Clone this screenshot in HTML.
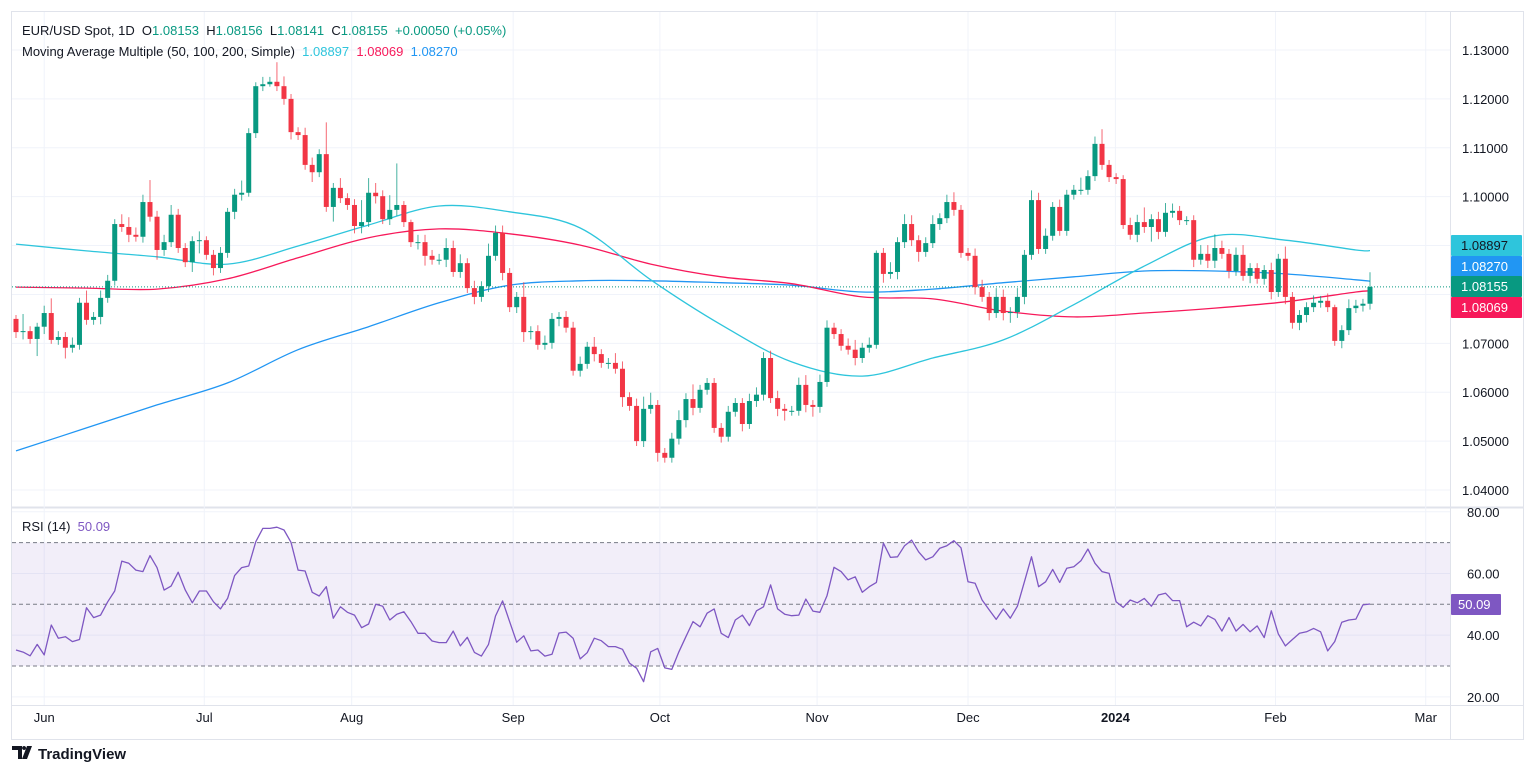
<!DOCTYPE html>
<html><head><meta charset="utf-8"><style>
html,body{margin:0;padding:0;background:#fff;}
body{width:1536px;height:776px;overflow:hidden;font-family:"Liberation Sans",sans-serif;}
svg{display:block}
</style></head><body>
<svg id="chart" width="1536" height="776" xmlns="http://www.w3.org/2000/svg" font-family="Liberation Sans, sans-serif"></svg>
<script>
// ---- data ----
const closes=[1.0723,1.0725,1.0709,1.0734,1.0762,1.0707,1.0713,1.0691,1.0697,1.0783,
1.0748,1.0754,1.0793,1.0828,1.0944,1.0938,1.0922,1.0918,1.0989,1.0959,
1.0891,1.0907,1.0963,1.0895,1.0866,1.0909,1.0911,1.0881,1.0854,1.0885,
1.0969,1.1004,1.1008,1.1130,1.1226,1.1230,1.1235,1.1226,1.1200,1.1132,
1.1126,1.1065,1.1050,1.1087,1.0979,1.1018,1.0997,1.0983,1.0940,1.0948,
1.1008,1.1001,1.0954,1.0973,1.0983,1.0948,1.0907,1.0907,1.0879,1.0871,
1.0871,1.0895,1.0846,1.0864,1.0813,1.0795,1.0817,1.0879,1.0926,1.0844,
1.0774,1.0795,1.0723,1.0725,1.0697,1.0701,1.0750,1.0754,1.0732,1.0644,
1.0658,1.0693,1.0678,1.0660,1.0660,1.0648,1.0590,1.0572,1.0500,1.0566,
1.0574,1.0476,1.0466,1.0505,1.0543,1.0586,1.0568,1.0605,1.0619,1.0527,
1.0509,1.0560,1.0578,1.0535,1.0582,1.0595,1.0670,1.0588,1.0566,1.0562,
1.0562,1.0615,1.0574,1.0570,1.0621,1.0732,1.0719,1.0695,1.0687,1.0670,
1.0691,1.0697,1.0885,1.0842,1.0846,1.0907,1.0944,1.0911,1.0887,1.0905,
1.0944,1.0956,1.0989,1.0973,1.0885,1.0879,1.0815,1.0795,1.0762,1.0795,
1.0762,1.0764,1.0795,1.0881,1.0993,1.0893,1.0920,1.0979,1.0930,1.1004,
1.1014,1.1014,1.1042,1.1108,1.1065,1.1040,1.1036,1.0942,1.0922,1.0948,
1.0938,1.0954,1.0928,1.0967,1.0971,1.0952,1.0952,1.0871,1.0883,1.0869,
1.0895,1.0883,1.0848,1.0881,1.0838,1.0854,1.0832,1.0850,1.0805,1.0873,
1.0795,1.0742,1.0758,1.0774,1.0783,1.0787,1.0774,1.0705,1.0727,1.0772,
1.0777,1.0781,1.08155];
const firstOpen=1.0750;
const upperWickPips=[8,35,10,8,15,30,12,10,15,10,25,10,15,12,10,20,20,15,15,45,12,15,20,12,10,10,18,8,10,12,8,12,25,10,8,15,10,40,20,10,10,15,15,10,65,10,20,10,12,45,30,20,12,30,85,8,5,15,15,12,12,20,15,18,10,15,10,25,15,15,10,10,30,10,12,15,12,10,12,12,15,10,20,10,10,20,15,10,15,25,25,10,10,12,20,12,30,10,10,10,10,12,10,10,15,15,12,15,15,10,10,15,20,10,15,15,10,10,15,20,10,15,5,10,20,10,20,18,10,12,18,10,15,20,10,10,15,15,10,18,15,10,18,10,20,15,15,10,15,10,10,25,12,15,30,10,8,8,15,15,30,10,15,20,15,10,8,10,18,18,28,15,10,15,20,10,10,10,15,10,25,10,10,10,15,10,15,5,10,18,12,10,30];
const lowerWickPips=[12,15,10,35,15,8,10,22,10,10,10,10,15,10,10,10,15,10,12,10,20,12,10,10,10,20,25,10,15,10,10,15,12,8,10,10,5,10,12,15,10,10,20,10,10,30,10,10,15,15,10,15,10,12,12,10,10,15,20,10,10,15,10,12,10,15,10,12,10,15,10,12,20,15,10,10,12,15,10,10,12,10,15,10,12,10,20,10,10,12,10,18,10,10,12,15,15,10,10,10,12,10,10,15,10,12,12,10,15,20,10,10,15,20,12,10,10,10,10,15,10,10,8,18,10,15,12,12,20,10,10,12,10,12,10,10,15,10,15,10,15,20,12,15,10,10,10,10,10,10,10,10,10,10,10,10,10,8,10,15,12,30,15,10,10,10,10,15,10,15,15,10,15,10,10,15,10,12,15,10,15,12,15,15,10,10,10,10,15,10,10,12,12];
const rsiValues=[35.2,34.5,33.3,37.0,33.6,43.3,39.0,39.5,37.9,38.6,48.9,45.7,46.5,50.8,54.3,64.0,63.3,61.1,60.6,65.8,
61.9,54.6,55.9,60.4,54.6,50.5,54.3,54.3,50.8,48.5,51.9,59.3,61.9,62.4,70.3,74.6,74.6,75.0,74.1,70.1,
61.1,60.8,53.9,52.7,55.7,45.5,49.2,47.4,46.5,42.4,43.6,50.0,49.4,44.9,46.8,47.6,44.4,40.6,40.6,38.1,
37.6,37.6,41.3,36.5,39.3,34.4,33.2,37.0,46.2,51.1,44.4,37.7,39.8,34.9,35.2,33.2,33.8,40.7,41.0,39.0,
32.3,34.3,39.0,38.2,36.3,36.3,35.4,30.9,29.3,24.9,34.6,35.7,29.4,28.9,34.6,39.5,44.4,42.7,
47.1,48.5,40.6,39.2,44.9,46.5,43.1,47.9,49.2,56.3,48.5,46.8,46.3,46.5,51.7,47.8,47.4,52.8,62.0,60.6,
57.9,58.9,53.9,55.7,57.1,69.8,65.2,65.4,69.0,70.8,67.0,64.4,65.4,68.2,69.0,70.6,68.3,57.3,56.8,51.4,
48.2,45.1,48.5,45.5,49.4,57.3,65.4,55.7,57.3,61.3,57.1,61.7,62.2,64.1,67.9,63.3,60.6,60.0,50.8,49.0,
51.4,50.5,51.9,49.4,53.0,53.6,51.2,51.2,42.7,44.2,43.0,46.3,45.1,41.3,45.7,41.3,43.5,41.1,43.0,39.2,47.9,
40.4,36.5,38.6,40.6,41.1,42.2,41.1,34.9,37.9,44.2,44.9,45.2,49.8,50.09];
const maIdx=[0,10,20,30,40,50,60,70,80,90,100,110,120,130,140,150,160,170,180,190,192];
const ma50=[1.0903,1.0889,1.0877,1.0862,1.0899,1.0942,1.0981,1.0969,1.0936,1.0830,1.0738,1.0662,1.0633,1.0670,1.0707,1.0779,1.0858,1.0920,1.0911,1.0891,1.08897];
const ma100=[1.0815,1.0813,1.0811,1.0832,1.0875,1.0916,1.0934,1.0924,1.0901,1.0862,1.0836,1.0822,1.0795,1.0791,1.0766,1.0754,1.0762,1.0772,1.0785,1.0805,1.08069];
const ma200=[1.0480,1.0527,1.0574,1.0619,1.0687,1.0734,1.0783,1.0819,1.0828,1.0828,1.0824,1.0819,1.0805,1.0811,1.0824,1.0836,1.0848,1.0848,1.0842,1.0830,1.0827];
const priceTicks=[1.13,1.12,1.11,1.10,1.07,1.06,1.05,1.04];
const priceGrid=[1.13,1.12,1.11,1.10,1.09,1.08,1.07,1.06,1.05,1.04];
const rsiTicks=[80,60,40,20];
const monthLabels=["Jun","Jul","Aug","Sep","Oct","Nov","Dec","2024","Feb","Mar"];
const monthIdx=[4,26.7,47.6,70.5,91.3,113.6,135,155.9,178.6,199.9];

// ---- scales ----
const X0=16, STEP=1354/192;
const xs=i=>X0+i*STEP;
const yP=p=>50+(1.13-p)*4889;
const yR=r=>604.3-(r-50)*3.085;
const svg=document.getElementById('chart');
const NS='http://www.w3.org/2000/svg';
function mk(tag,attrs,parent){const e=document.createElementNS(NS,tag);for(const k in attrs)e.setAttribute(k,attrs[k]);(parent||svg).appendChild(e);return e;}

// frame
let fr=mk('rect',{x:11.5,y:11.5,width:1512,height:728,fill:'none',stroke:'#e0e3eb'});


mk('line',{x1:12,x2:1523,y1:507.5,y2:507.5,stroke:'#e0e3eb','stroke-width':2});
mk('line',{x1:12,x2:1523,y1:705.5,y2:705.5,stroke:'#e0e3eb'});
mk('line',{x1:1450.5,x2:1450.5,y1:12,y2:740,stroke:'#e0e3eb'});

// grid
const gridG=mk('g',{stroke:'#f0f3fa','stroke-width':1});


priceGrid.forEach(p=>mk('line',{x1:12,x2:1450,y1:yP(p),y2:yP(p)},gridG));
[80,60,40,20].forEach(r=>mk('line',{x1:12,x2:1450,y1:yR(r),y2:yR(r)},gridG));
monthIdx.forEach(m=>mk('line',{x1:xs(m),x2:xs(m),y1:12,y2:705},gridG));

// RSI band
let band=mk('rect',{x:12,y:yR(70),width:1438,height:yR(30)-yR(70),fill:'rgba(126,87,194,0.1)'});


[70,50,30].forEach(r=>{const l=mk('line',{x1:12,x2:1450,y1:yR(r),y2:yR(r),stroke:'#787b86','stroke-dasharray':'4 3'});

});

// MAs (smooth Catmull-Rom)
function maLine(vals,color,name){
  const pts=maIdx.map((ix,k)=>[xs(ix),yP(vals[k])]);
  let d='M'+pts[0][0].toFixed(1)+','+pts[0][1].toFixed(1);
  for(let i=0;i<pts.length-1;i++){
    const p0=pts[i-1]||pts[i],p1=pts[i],p2=pts[i+1],p3=pts[i+2]||p2;
    const c1=[p1[0]+(p2[0]-p0[0])/6,p1[1]+(p2[1]-p0[1])/6];
    const c2=[p2[0]-(p3[0]-p1[0])/6,p2[1]-(p3[1]-p1[1])/6];
    d+='C'+c1[0].toFixed(1)+','+c1[1].toFixed(1)+' '+c2[0].toFixed(1)+','+c2[1].toFixed(1)+' '+p2[0].toFixed(1)+','+p2[1].toFixed(1);
  }
  const p=mk('path',{d:d,fill:'none',stroke:color,'stroke-width':1.3,'stroke-linejoin':'round'});
  
  }
maLine(ma200,'#2196f3','ma200-line');
maLine(ma100,'#f7195a','ma100-line');
maLine(ma50,'#2ec5dc','ma50-line');

// last price dotted line
let lp=mk('line',{x1:12,x2:1450,y1:yP(closes[closes.length-1]),y2:yP(closes[closes.length-1]),stroke:'#089981','stroke-dasharray':'1 2'});



// candles
const cg=mk('g',{});


for(let i=0;i<closes.length;i++){
  const o=i?closes[i-1]:firstOpen, c=closes[i];
  const hi=Math.max(o,c)+upperWickPips[i]*0.0001, lo=Math.min(o,c)-lowerWickPips[i]*0.0001;
  const up=c>=o, col=up?'#089981':'#f23645';
  const x=xs(i);
  const w=mk('line',{x1:x,x2:x,y1:yP(hi),y2:yP(lo),stroke:col,'stroke-width':1,opacity:0.75},cg);
  
  
  const yt=yP(Math.max(o,c)), yb=yP(Math.min(o,c));
  const b=mk('rect',{x:x-2.5,y:yt,width:5,height:Math.max(1,yb-yt),fill:col},cg);
  
  
}

// RSI line
let rd='';rsiValues.forEach((r,i)=>{rd+=(i?'L':'M')+xs(i).toFixed(1)+','+yR(r).toFixed(1);});
let rl=mk('path',{d:rd,fill:'none',stroke:'#7e57c2','stroke-width':1.3,'stroke-linejoin':'round'});



// axis labels
function txt(s,x,y,attrs,name){const t=mk('text',Object.assign({x:x,y:y,'font-size':13,fill:'#131722'},attrs||{}));t.textContent=s;

return t;}
priceTicks.forEach(p=>txt(p.toFixed(5),1462,yP(p)+5,{},'price-tick'));
rsiTicks.forEach(r=>txt(r.toFixed(2),1467,yR(r)+5,{},'rsi-tick'));
monthLabels.forEach((m,k)=>txt(m,xs(monthIdx[k]),722,{'text-anchor':'middle','font-weight':m==='2024'?'bold':'normal'},'time-label'));

// price boxes
function box(val,y,color,name){const g=mk('g',{});


mk('rect',{x:1451,y:y,width:71,height:21,fill:color,rx:1},g);
const t=mk('text',{x:1461,y:y+15,'font-size':13,fill:color==='#2ec5dc'?'#131722':'#fff'},g);t.textContent=val;}
box(ma50[ma50.length-1].toFixed(5),235,'#2ec5dc','ma50-price-label');
box(ma200[ma200.length-1].toFixed(5),256,'#2196f3','ma200-price-label');
box(closes[closes.length-1].toFixed(5),276,'#089981','last-price-label');
box(ma100[ma100.length-1].toFixed(5),297,'#f7195a','ma100-price-label');
const rb=mk('g',{});


mk('rect',{x:1451,y:594,width:50,height:21,fill:'#7e57c2',rx:1},rb);
const rt=mk('text',{x:1458,y:609,'font-size':13,fill:'#fff'},rb);rt.textContent=rsiValues[rsiValues.length-1].toFixed(2);

// header legend
const h1=mk('text',{x:22,y:35,'font-size':13,fill:'#131722'});


h1.innerHTML='EUR/USD Spot, 1D&#160;&#160;O<tspan fill="#089981">1.08153</tspan>&#160;&#160;H<tspan fill="#089981">1.08156</tspan>&#160;&#160;L<tspan fill="#089981">1.08141</tspan>&#160;&#160;C<tspan fill="#089981">1.08155</tspan>&#160;&#160;<tspan fill="#089981">+0.00050 (+0.05%)</tspan>';
const h2=mk('text',{x:22,y:56,'font-size':13,fill:'#131722'});


h2.innerHTML='Moving Average Multiple (50, 100, 200, Simple)&#160;&#160;<tspan fill="#2ec5dc">1.08897</tspan>&#160;&#160;<tspan fill="#f7195a">1.08069</tspan>&#160;&#160;<tspan fill="#2196f3">1.08270</tspan>';
const h3=mk('text',{x:22,y:531,'font-size':13,fill:'#131722'});


h3.innerHTML='RSI (14)&#160;&#160;<tspan fill="#7e57c2">50.09</tspan>';

// logo
const lg=mk('g',{});


mk('path',{d:'M12 746h10v13h-4v-9h-6z M24 746a2 2 0 1 0 0.1 0z M27 746h5l-5 13h-5z',fill:'#131722'},lg);
const lt=mk('text',{x:38,y:759,'font-size':15,'font-weight':'bold',fill:'#131722'},lg);lt.textContent='TradingView';
</script>
</body></html>
